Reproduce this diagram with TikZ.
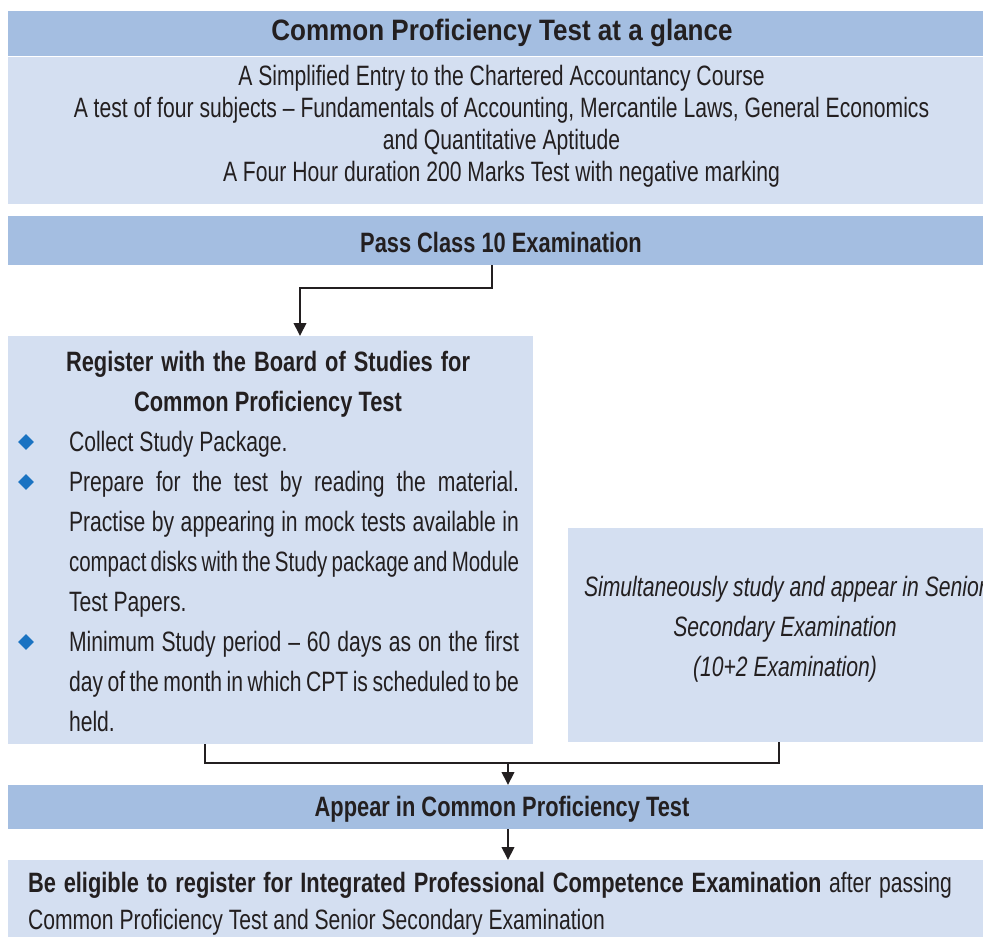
\documentclass[tikz,border=0pt]{standalone}
\usepackage{fontspec}
\setmainfont{Liberation Sans}[FakeStretch=0.755]
\newfontfamily\boldfam{Liberation Sans}[FakeStretch=0.78]
\newfontfamily\titlefam{Liberation Sans}[FakeStretch=0.883]
\usetikzlibrary{arrows.meta,shapes.geometric,calc}
\definecolor{hdr}{HTML}{A4BEE1}
\definecolor{lite}{HTML}{D4DFF1}
\definecolor{ink}{HTML}{231F20}
\definecolor{bul}{HTML}{1A73C2}
\begin{document}
\begin{tikzpicture}[x=1pt,y=-1pt,
  box/.style={inner sep=0pt, outer sep=0pt, anchor=north west, draw=none},
  hdrbox/.style={box, fill=hdr},
  litebox/.style={box, fill=lite},
  txt/.style={inner sep=0pt, outer sep=0pt, text=ink, anchor=base},
  ltxt/.style={txt, anchor=base west},
  titlefont/.style={font=\titlefam\bfseries\fontsize{29.5}{32}\selectfont},
  headfont/.style={font=\boldfam\bfseries\fontsize{28}{32}\selectfont},
  introfont/.style={font=\fontsize{28}{32}\selectfont},
  itemfont/.style={font=\fontsize{28}{32}\selectfont},
  simfont/.style={font=\itshape\fontsize{28}{32}\selectfont},
  finalfont/.style={font=\fontsize{28}{32}\selectfont},
  conn/.style={draw=ink, line width=2pt, line join=miter},
  arr/.style={conn, -{Triangle[width=12.5pt,length=13pt]}},
  bulletmark/.style={diamond, fill=bul, draw=none, inner sep=0pt, minimum width=16pt, minimum height=16pt},
]
\useasboundingbox (0,0) rectangle (983,937);
\fill[white] (0,0) rectangle (983,937);
\clip (0,0) rectangle (983,937);

% boxes
\node[hdrbox, minimum width=985pt, minimum height=45pt] (title) at (8,11) {};
\node[litebox, minimum width=985pt, minimum height=147pt] (intro) at (8,57) {};
\node[hdrbox, minimum width=985pt, minimum height=49pt] (pass) at (8,216) {};
\node[litebox, minimum width=525pt, minimum height=408pt] (reg) at (8,336) {};
\node[litebox, minimum width=440pt, minimum height=214pt] (sim) at (568,528) {};
\node[hdrbox, minimum width=985pt, minimum height=44pt] (appear) at (8,785) {};
\node[litebox, minimum width=985pt, minimum height=90pt] (final) at (8,860) {};

% title and intro
\node[txt, titlefont] (titletxt) at (502,40.5) {Common Proficiency Test at a glance};
\node[txt, introfont] (intro1) at (501.5,85) {A Simplified Entry to the Chartered Accountancy Course};
\node[txt, introfont] (intro2) at (501.5,117) {A test of four subjects – Fundamentals of Accounting, Mercantile Laws, General Economics};
\node[txt, introfont] (intro3) at (501.5,149) {and Quantitative Aptitude};
\node[txt, introfont] (intro4) at (501.5,181) {A Four Hour duration 200 Marks Test with negative marking};

% pass
\node[txt, headfont] (passtxt) at (501,252) {Pass Class 10 Examination};

% register
\node[txt, headfont] (reghead1) at (268,371) {\makebox[404pt][s]{Register with the Board of Studies for}};
\node[txt, headfont] (reghead2) at (268,411) {Common Proficiency Test};

\node[bulletmark] (b1) at (26,442) {};
\node[bulletmark] (b2) at (26,482) {};
\node[bulletmark] (b3) at (26,642) {};

\node[ltxt, itemfont] (l1) at (69,451) {Collect Study Package.};
\node[ltxt, itemfont] (l2) at (69,491) {\makebox[450pt][s]{Prepare for the test by reading the material.}};
\node[ltxt, itemfont] (l3) at (69,531) {\makebox[450pt][s]{Practise by appearing in mock tests available in}};
\node[ltxt, itemfont] (l4) at (69,571) {\scalebox{0.97}[1]{\makebox[464pt][s]{compact disks with the Study package and Module}}};
\node[ltxt, itemfont] (l5) at (69,611) {Test Papers.};
\node[ltxt, itemfont] (l6) at (69,651) {\makebox[450pt][s]{Minimum Study period – 60 days as on the first}};
\node[ltxt, itemfont] (l7) at (69,691) {\makebox[450pt][s]{day of the month in which CPT is scheduled to be}};
\node[ltxt, itemfont] (l8) at (69,731) {held.};

% simultaneous
\node[txt, simfont] (sim1) at (785,596) {Simultaneously study and appear in Senior};
\node[txt, simfont] (sim2) at (785,636) {Secondary Examination};
\node[txt, simfont] (sim3) at (785,676) {(10+2 Examination)};

% appear
\node[txt, headfont] (appeartxt) at (502,816) {Appear in Common Proficiency Test};

% final
\node[ltxt, finalfont] (fin1) at (28,892) {\makebox[924pt][s]{{\boldfam\bfseries Be eligible to register for Integrated Professional Competence Examination} after passing}};
\node[ltxt, finalfont] (fin2) at (28,929) {Common Proficiency Test and Senior Secondary Examination};

% connectors
\coordinate (join) at (508,763);
\draw[arr] ([xshift=484pt]pass.south west) -- ++(0,23) -| ([xshift=292pt]reg.north west);
\draw[conn] ([xshift=197pt]reg.south west) |- (join) -| ([xshift=211pt]sim.south west);
\draw[arr] (join) -- (join |- appear.north);
\draw[arr] (join |- appear.south) -- (join |- final.north);
\end{tikzpicture}
\end{document}
